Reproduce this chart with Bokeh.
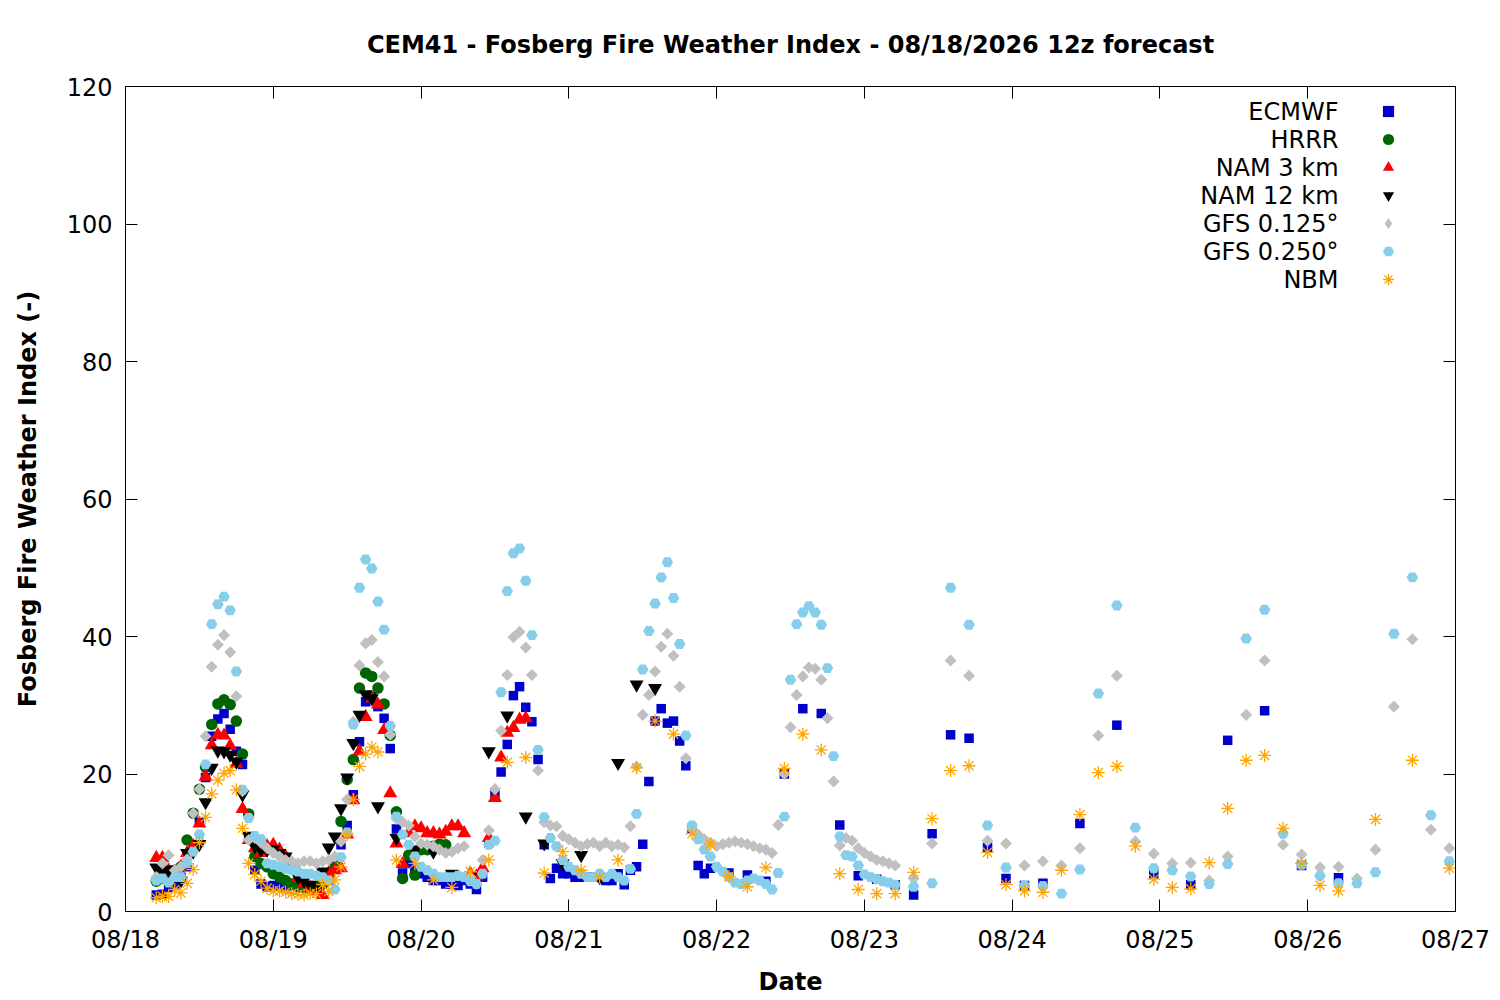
from bokeh.plotting import figure
from bokeh.models import Range1d, LinearAxis, FixedTicker, Legend, LegendItem, Label
from bokeh.embed import file_html
from bokeh.resources import INLINE
import math

# ---------------- data (hours after 08/18 00, Fosberg index) ----------------
series_names = ["ECMWF", "HRRR", "NAM 3 km", "NAM 12 km", "GFS 0.125\u00b0", "GFS 0.250\u00b0", "NBM"]
date_labels = ["08/18", "08/19", "08/20", "08/21", "08/22", "08/23", "08/24", "08/25", "08/26", "08/27"]
y_ticks = [0, 20, 40, 60, 80, 100, 120]

ecmwf_hours = list(range(5, 96)) + list(range(98, 150, 3)) + list(range(155, 198, 6))
ecmwf_vals = [
    2.4, 2.5, 3.5, 4.0, 5.0, 6.5, 9.2, 13.0, 19.5, 25.5, 28.0, 28.8, 26.5, 23.3, 21.4, 10.5, 6.0, 4.0, 3.6, 3.8,
    3.7, 3.6, 3.8, 3.5, 3.4, 3.6, 3.8, 4.0, 4.5, 6.5, 9.7, 12.5, 17.0, 24.7, 30.5, 31.3, 29.8, 28.1, 23.7, 12.0,
    5.6, 7.0, 6.0, 5.5, 5.0, 4.5, 4.5, 4.0, 4.0, 3.8, 4.5, 4.0, 3.2, 5.0, 10.0, 17.0, 20.3, 24.3, 31.4, 32.7,
    29.7, 27.6, 22.1, 9.7, 4.8, 6.3, 5.5, 5.5, 5.0, 5.0, 5.0, 5.0, 5.0, 4.5, 4.5, 5.5, 3.9, 6.0, 6.5, 9.8,
    18.9, 27.7, 29.5, 27.4, 27.7, 24.8, 21.2, 12.1, 6.7, 5.5, 6.3,
    5.6, 5.3, 4.4, 20.0, 29.5, 28.8, 12.6, 5.2, 4.7, 3.9, 2.4, 11.3, 25.7, 25.2, 9.3, 4.8, 3.8, 4.1,
    12.8, 27.1, 5.5, 3.9, 24.9, 29.2, 6.7, 4.9,
]

hrrr_hours = list(range(5, 53))
hrrr_vals = [
    4.4, 4.8, 5.5, 6.0, 6.5, 10.4, 14.3, 17.8, 21.0, 27.2, 30.2, 30.8, 30.1, 27.7, 22.9, 14.2, 8.0, 7.0, 6.5, 5.5,
    5.0, 4.5, 4.0, 3.8, 3.6, 3.5, 3.5, 4.0, 5.0, 7.0, 13.1, 19.2, 22.1, 32.5, 34.7, 34.2, 32.5, 30.2, 25.6, 14.5,
    4.8, 8.2, 5.3, 9.0, 9.0, 9.5, 9.8, 9.7,
]

nam3_hours = list(range(5, 66))
nam3_vals = [
    7.8, 7.8, 6.0, 5.5, 6.5, 8.5, 9.5, 12.8, 19.6, 24.2, 25.7, 25.6, 24.1, 21.5, 14.9, 10.4, 9.2, 8.5, 9.5, 9.7,
    9.0, 8.0, 6.5, 5.0, 4.1, 3.5, 3.0, 2.4, 5.6, 6.0, 6.3, 11.2, 16.2, 23.3, 28.3, 31.0, 30.1, 26.4, 17.2, 9.9,
    6.9, 11.4, 12.4, 12.1, 11.4, 11.4, 11.2, 11.6, 12.4, 12.4, 11.4, 5.5, 5.1, 6.3, 10.7, 16.5, 22.4, 26.0, 26.7, 27.9,
    28.1,
]

nam12_hours = list(range(5, 42)) + list(range(44, 87, 3))
nam12_vals = [
    6.4, 5.8, 6.1, 5.0, 4.5, 8.5, 8.7, 9.8, 15.9, 20.9, 23.4, 23.3, 22.8, 21.8, 17.0, 11.0, 9.5, 9.0, 9.0, 9.0,
    8.5, 8.0, 6.5, 5.0, 4.5, 3.9, 3.4, 5.8, 9.3, 10.9, 15.0, 19.5, 24.5, 28.6, 31.6, 31.0, 15.3,
    10.7, 9.0, 8.7, 5.5, 5.0, 23.3, 28.5, 13.8, 9.9, 7.0, 8.2, 5.0, 21.6, 33.0, 32.5,
]

gfs125_hours = list(range(5, 126)) + list(range(128, 216, 3))
gfs125_vals = [
    5.0, 7.0, 8.2, 6.0, 6.5, 7.6, 14.3, 17.8, 25.5, 35.6, 38.8, 40.2, 37.7, 31.3, 17.5, 10.4, 10.7, 10.0, 9.2, 8.5,
    8.0, 7.5, 7.3, 7.0, 7.3, 7.3, 7.0, 7.3, 7.5, 8.0, 10.2, 16.3, 27.6, 35.8, 39.0, 39.5, 36.3, 34.2, 25.7, 13.5,
    13.0, 12.5, 10.9, 9.9, 9.7, 9.5, 9.0, 8.5, 8.7, 9.2, 9.5, 5.0, 4.0, 7.5, 11.8, 17.8, 26.3, 34.4, 39.9, 40.7,
    38.4, 34.4, 20.5, 13.0, 12.5, 12.4, 11.0, 10.5, 10.0, 9.5, 9.8, 10.0, 9.5, 10.0, 9.5, 9.7, 9.3, 12.4, 21.1, 28.6,
    31.5, 34.9, 38.5, 40.4, 37.2, 32.7, 22.3, 12.0, 11.2, 10.5, 10.0, 9.5, 9.8, 10.0, 10.2, 10.0, 9.8, 9.5, 9.2, 9.0,
    8.5, 12.6, 20.0, 26.8, 31.5, 34.2, 35.5, 35.3, 33.7, 28.1, 18.9, 9.6, 10.7, 10.3, 9.2, 8.5, 8.0, 7.5, 7.3, 7.0,
    6.7,
    4.8, 9.9, 36.5, 34.3, 10.3, 9.9, 6.7, 7.3, 6.7, 9.2, 25.6, 34.3, 10.2, 8.4, 7.0, 7.1, 4.5, 8.0, 28.6, 36.5,
    9.7, 8.3, 6.4, 6.5, 4.8, 9.0, 29.8, 39.6, 11.9, 9.2,
]

gfs250_hours = list(range(5, 126)) + list(range(128, 216, 3))
gfs250_vals = [
    4.5, 4.8, 4.2, 5.0, 5.0, 7.0, 8.7, 11.2, 21.4, 41.8, 44.7, 45.8, 43.8, 34.9, 17.7, 13.6, 11.0, 10.5, 7.0, 6.8,
    6.5, 6.2, 6.0, 5.8, 5.5, 5.5, 5.2, 5.0, 4.5, 3.2, 7.9, 11.5, 27.2, 47.1, 51.2, 49.9, 45.1, 41.0, 27.0, 13.8,
    11.2, 9.7, 8.0, 6.5, 6.0, 5.5, 5.0, 5.0, 5.0, 5.2, 5.0, 4.4, 4.0, 5.5, 9.7, 10.3, 31.9, 46.6, 52.1, 52.8,
    48.1, 40.2, 23.5, 13.7, 10.7, 9.5, 7.5, 6.5, 6.0, 5.5, 5.0, 5.0, 5.5, 5.0, 5.5, 5.0, 4.5, 6.2, 14.2, 35.2,
    40.8, 44.8, 48.6, 50.8, 45.6, 38.9, 25.6, 12.5, 10.5, 9.0, 8.0, 6.5, 5.8, 5.0, 4.2, 4.0, 4.5, 4.8, 4.5, 4.0,
    3.2, 5.6, 13.8, 33.7, 41.8, 43.5, 44.4, 43.5, 41.7, 35.4, 22.6, 10.9, 8.2, 8.0, 6.7, 5.4, 5.0, 4.7, 4.4, 4.2,
    3.9,
    3.6, 4.1, 47.1, 41.7, 12.5, 6.4, 3.8, 3.7, 2.6, 6.1, 31.7, 44.5, 12.2, 6.3, 6.0, 5.1, 4.0, 6.9, 39.7, 43.9,
    11.3, 6.8, 5.2, 4.1, 4.1, 5.7, 40.4, 48.6, 14.0, 7.3,
]

nbm_hours = list(range(5, 42)) + list(range(44, 198, 3)) + list(range(203, 216, 6))
nbm_vals = [
    2.0, 2.2, 2.2, 3.2, 2.7, 4.1, 6.1, 10.0, 13.7, 17.1, 19.1, 20.1, 20.5, 17.7, 12.1, 7.0, 5.4, 4.4, 3.4, 3.0,
    3.0, 2.8, 2.6, 2.5, 2.4, 2.6, 2.6, 3.9, 2.9, 4.6, 6.5, 11.2, 16.3, 21.1, 22.9, 23.9, 23.2,
    7.5, 7.0, 4.6, 3.5, 5.8, 7.5, 21.7, 22.4, 5.6, 8.7, 6.0, 5.0, 7.5, 20.9, 27.7, 25.8, 11.3, 9.8, 5.1, 3.6,
    6.4, 20.8, 25.8, 23.5, 5.5, 3.2, 2.6, 2.6, 5.7, 13.5, 20.5, 21.2, 8.6, 3.9, 3.0, 2.8, 6.0, 14.1, 20.2, 21.1,
    9.5, 4.7, 3.5, 3.3, 7.1, 15.0, 22.0, 22.7, 12.1, 7.0, 3.8, 3.0,
    13.4, 22.0, 6.3,
]

# ---------------- figure ----------------
FONT = "DejaVu Sans"
FS = "24px"
x_ticks = [24 * i for i in range(len(date_labels))]

p = figure(frame_width=1330, frame_height=825,
           x_range=Range1d(0, x_ticks[-1]), y_range=Range1d(y_ticks[0], y_ticks[-1]),
           output_backend="svg", toolbar_location=None,
           min_border_left=125, min_border_top=85, min_border_right=37, min_border_bottom=70,
           background_fill_color="white", border_fill_color="white")
p.grid.visible = False
p.outline_line_color = "black"
p.outline_line_width = 1

p.title.text = "CEM41 - Fosberg Fire Weather Index - 08/18/2026 12z forecast"
p.title.align = "center"
p.title.text_font = FONT
p.title.text_font_size = FS
p.title.text_font_style = "bold"
p.title.text_color = "black"
p.title.standoff = 56

def style_axis(ax):
    ax.axis_line_color = "black"
    ax.axis_line_width = 1
    ax.major_tick_in = 12
    ax.major_tick_out = 0
    ax.major_tick_line_color = "black"
    ax.minor_tick_line_color = None
    ax.major_label_text_font = FONT
    ax.major_label_text_font_size = FS
    ax.major_label_text_color = "black"
    ax.axis_label_text_font = FONT
    ax.axis_label_text_font_size = FS
    ax.axis_label_text_font_style = "bold"
    ax.axis_label_text_color = "black"

xax = p.xaxis[0]
xax.ticker = FixedTicker(ticks=x_ticks)
xax.major_label_overrides = {t: lab for t, lab in zip(x_ticks, date_labels)}
style_axis(xax)
xax.axis_label = "Date"
xax.major_label_standoff = 14
xax.axis_label_standoff = 11

yax = p.yaxis[0]
yax.ticker = FixedTicker(ticks=y_ticks)
style_axis(yax)
yax.axis_label = "Fosberg Fire Weather Index (-)"
yax.major_label_standoff = 13
yax.axis_label_standoff = 22

top = LinearAxis(ticker=FixedTicker(ticks=x_ticks),
                 major_label_overrides={t: "" for t in x_ticks})
style_axis(top)
top.major_label_standoff = 0
p.add_layout(top, "above")

right = LinearAxis(ticker=FixedTicker(ticks=y_ticks),
                   major_label_overrides={t: "" for t in y_ticks})
style_axis(right)
right.major_label_standoff = 0
p.add_layout(right, "right")

# ---------------- series ----------------
COLORS = ["#0000cc", "#006400", "#ff0000", "black", "#c0c0c0", "#87ceeb", "#ffa500"]
renderers = []
renderers.append(p.scatter(ecmwf_hours, ecmwf_vals, marker="square", size=9.5,
                           fill_color=COLORS[0], line_color=None))
renderers.append(p.scatter(hrrr_hours, hrrr_vals, marker="circle", size=11.5,
                           fill_color=COLORS[1], line_color=None))
renderers.append(p.scatter(nam3_hours, nam3_vals, marker="triangle", size=14,
                           fill_color=COLORS[2], line_color=None))
renderers.append(p.scatter(nam12_hours, nam12_vals, marker="inverted_triangle", size=14,
                           fill_color=COLORS[3], line_color=None))
# diamond marker (hidden underneath the rotated squares) provides the legend key
gfs125_key = p.scatter(gfs125_hours, gfs125_vals, marker="diamond", size=8,
                       fill_color=COLORS[4], line_color=None)
p.scatter(gfs125_hours, gfs125_vals, marker="square", size=8.5, angle=math.pi / 4,
          fill_color=COLORS[4], line_color=None)
renderers.append(gfs125_key)
renderers.append(p.scatter(gfs250_hours, gfs250_vals, marker="hex", size=11.5,
                           fill_color=COLORS[5], line_color=None))
renderers.append(p.scatter(nbm_hours, nbm_vals, marker="asterisk", size=13,
                           line_color=COLORS[6], line_width=1.3))

# ---------------- legend (labels left, symbols right, gnuplot style) ----------------
legend = Legend(items=[LegendItem(label=" ", renderers=[r]) for r in renderers],
                location=(1249, 618), padding=0, margin=0, spacing=0,
                glyph_width=28, glyph_height=28, label_height=28, label_width=1,
                label_standoff=0, label_text_font_size="1px",
                border_line_color=None, background_fill_alpha=0)
p.add_layout(legend)

row0 = 116.36
row_step = 28 / 6.875
for i, name in enumerate(series_names):
    p.add_layout(Label(x=197.0, y=row0 - i * row_step, text=name, text_align="right",
                       text_baseline="middle", text_font=FONT, text_font_size=FS,
                       text_color="black"))

open("out.html", "w").write(file_html(p, INLINE))
